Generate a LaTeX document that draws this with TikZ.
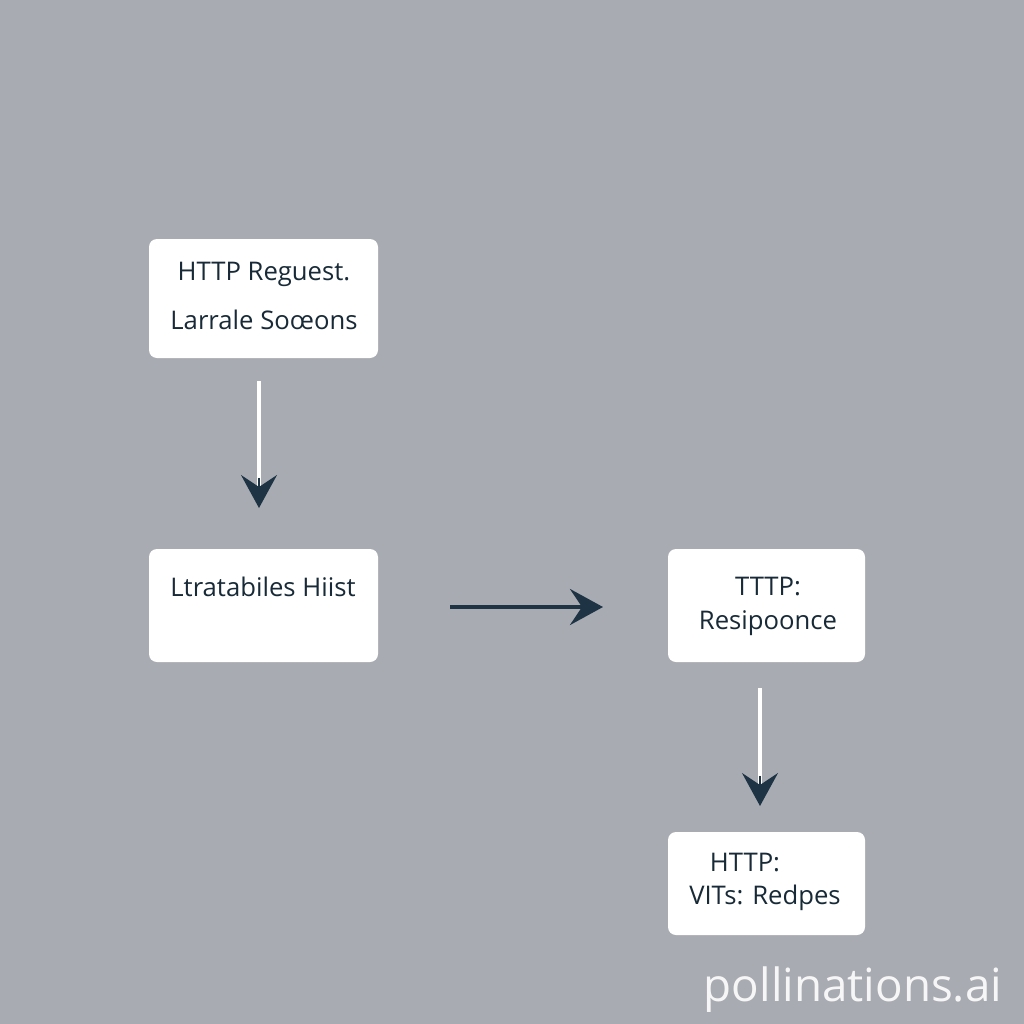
\documentclass[tikz,border=0pt]{standalone}
\usepackage{fontspec}
\setmainfont{Open Sans}
\usetikzlibrary{arrows.meta}
\definecolor{bg}{HTML}{A9ABB2}
\definecolor{ink}{HTML}{1E3445}
\begin{document}
\begin{tikzpicture}[x=0.01cm,y=-0.01cm,
  box/.style={fill=white,rounded corners=0.08cm,inner sep=0pt},
  lbl/.style={font=\fontsize{7.3}{9}\selectfont,text=ink!80!black,inner sep=0pt},
  tip/.style={-{Stealth[length=0.33cm,width=0.36cm,inset=0.12cm]},ink,line width=0.4pt}]
\fill[bg] (0,0) rectangle (1024,1024);
\useasboundingbox (0,0) rectangle (1024,1024);
\fill[box] (149,239) rectangle (378,358);
\fill[box] (149,549) rectangle (378,662);
\fill[box] (668,549) rectangle (865,662);
\fill[box] (668,832) rectangle (865,935);
\node[lbl] (t1a) at (264,274) {HTTP Reguest.};
\node[lbl] (t1b) at (264,320) {Larrale Soœons};
\node[lbl] (t2) at (263,587) {Ltratabiles Hiist};
\node[lbl] (t3a) at (768,587) {TTTP:};
\node[lbl] (t3b) at (768,623) {Resipoonce};
\node[lbl] (t4a) at (745,863) {HTTP:};
\node[lbl] (t4b) at (765,898) {VITs: Redpes};
\coordinate (a1s) at (259,381); \coordinate (a1e) at (259,508);
\coordinate (a2s) at (450,607); \coordinate (a2e) at (603,607);
\coordinate (a3s) at (760,688); \coordinate (a3e) at (760,806);
\draw[white,line width=0.9pt] (a1s) -- ([yshift=0.2cm]a1e);
\draw[tip] ([yshift=0.3cm]a1e) -- (a1e);
\draw[ink,line width=1.1pt,-{Stealth[length=0.33cm,width=0.36cm,inset=0.12cm]}] (a2s) -- (a2e);
\draw[white,line width=0.9pt] (a3s) -- ([yshift=0.2cm]a3e);
\draw[tip] ([yshift=0.3cm]a3e) -- (a3e);
\node[font=\fontsize{13}{15}\selectfont,text=white,opacity=0.9] (wm) at (853,990) {pollinations.ai};
\end{tikzpicture}
\end{document}
